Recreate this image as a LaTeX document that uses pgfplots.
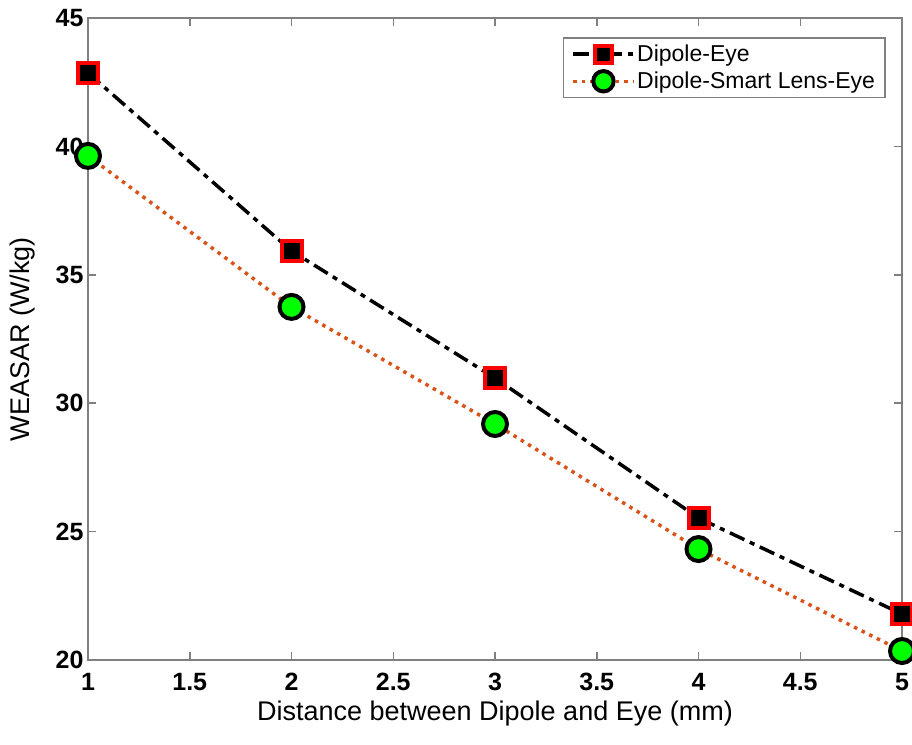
\documentclass[border=0pt]{standalone}
\usepackage{fontspec}
\setmainfont{Liberation Sans}
\usepackage{pgfplots}
\pgfplotsset{compat=1.18}
\definecolor{MOrange}{RGB}{217,83,25}
\definecolor{MGreen}{RGB}{0,255,0}
\definecolor{AxGray}{RGB}{128,128,128}
\begin{document}
\begin{tikzpicture}
\begin{axis}[
  scale only axis,
  width=814pt, height=642pt,
  xmin=1, xmax=5, ymin=20, ymax=45,
  xtick={1,1.5,...,5},
  ytick={20,25,...,45},
  tick align=inside,
  major tick length=8pt,
  axis line style={AxGray, line width=1.5pt},
  tick style={AxGray, line width=1.5pt},
  /pgf/number format/assume math mode=true,
  tick label style={font=\fontsize{25}{28}\selectfont\bfseries},
  xticklabel style={yshift=-10pt},
  yticklabel style={xshift=-1pt},
  label style={font=\fontsize{27}{30}\selectfont},
  xlabel={Distance between Dipole and Eye (mm)},
  ylabel={WEASAR (W/kg)},
  xlabel style={yshift=-3pt},
  ylabel style={yshift=14pt},
  legend style={at={(0.98,0.97)}, anchor=north east,
    font=\fontsize{23}{27}\selectfont, draw=AxGray, line width=1.5pt,
    row sep=5pt, inner xsep=8pt, inner ysep=5pt},
  legend cell align=left,
  legend image code/.code={
    \draw[mark repeat=2, mark phase=2, line width=3.5pt,
      every mark/.append style={scale=0.85}]
      plot coordinates {(0pt,0pt) (30pt,0pt) (60pt,0pt)};
  },
  clip=false,
]
\coordinate (ll) at (rel axis cs:0,0);
\coordinate (ur) at (rel axis cs:1,1);
\addplot[black, line width=3.5pt, dash pattern=on 16pt off 6pt on 5pt off 6pt,
  mark=square*, mark size=10pt,
  mark options={solid, fill=black, draw=red, line width=4pt}]
  coordinates {(1,42.86) (2,35.93) (3,30.98) (4,25.53) (5,21.79)};
\addlegendentry{Dipole-Eye}
\addplot[MOrange, line width=3.5pt, dash pattern=on 3.5pt off 5pt,
  mark=*, mark size=12pt,
  mark options={solid, fill=MGreen, draw=black, line width=4pt}]
  coordinates {(1,39.63) (2,33.75) (3,29.19) (4,24.32) (5,20.35)};
\addlegendentry{Dipole-Smart Lens-Eye}
\end{axis}
\pgfresetboundingbox
\path ([shift={(-88pt,-84pt)}]ll) rectangle ([shift={(10pt,18pt)}]ur);
\end{tikzpicture}
\end{document}
